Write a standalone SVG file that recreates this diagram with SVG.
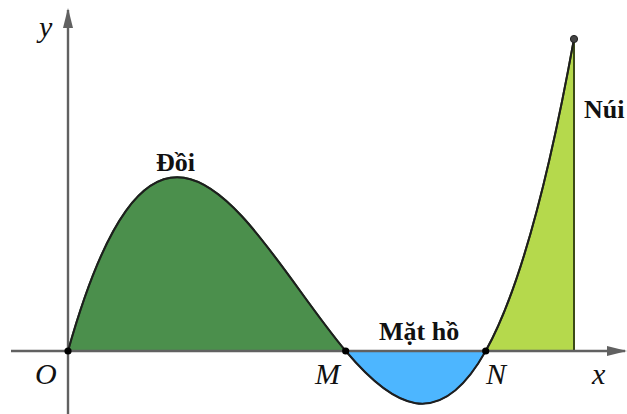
<svg xmlns="http://www.w3.org/2000/svg" width="627" height="414" viewBox="0 0 627 414">
<style>
.axis{stroke:#616161;stroke-width:2.4;fill:none}
.curve{stroke:#1e1e1e;stroke-width:2;fill:none}
.lbl{font-family:"Liberation Serif","Times New Roman",serif;font-weight:bold;font-size:26px;fill:#111}
.math{font-family:"Liberation Serif","Times New Roman",serif;font-style:italic;font-size:30px;fill:#111}
.pt{fill:#000}
</style>
<defs>
<marker id="arr" viewBox="0 0 20 10" refX="18" refY="5" markerWidth="20" markerHeight="10" markerUnits="userSpaceOnUse" orient="auto">
<path d="M0,0 L20,5 L0,10 Z" fill="#616161"/>
</marker>
</defs>
<rect width="627" height="414" fill="#fff"/>
<g id="regions">
<path id="hill" d="M68,351 C160.57,22.44 253.13,240.87 345.7,351 Z" fill="#4b8f4c" stroke="#2b5a2b" stroke-width="2"/>
<path id="lake" d="M345.7,351 C392.37,406.52 439.03,434.51 485.7,351 Z" fill="#4db6ff" stroke="#1e3a55" stroke-width="1.5"/>
<path id="mountain" d="M485.7,351 C515.13,298.33 544.57,201.34 574,38.9 L574,351 Z" fill="#b5d94c" stroke="#3b4a18" stroke-width="2"/>
</g>
<g id="axes">
<line class="axis" x1="11" y1="351" x2="625" y2="351" marker-end="url(#arr)"/>
<line class="axis" x1="68" y1="414" x2="68" y2="10" marker-end="url(#arr)"/>
</g>
<g id="graph">
<path class="curve" d="M68,351 C160.57,22.44 253.13,240.87 345.7,351 C392.37,406.52 439.03,434.51 485.7,351 C515.13,298.33 544.57,201.34 574,38.9"/>
</g>
<g id="points">
<circle class="pt" cx="68" cy="351" r="3.6"/>
<circle class="pt" cx="345.7" cy="351" r="3.6"/>
<circle class="pt" cx="485.7" cy="351" r="3.6"/>
<circle cx="574" cy="39" r="3.6" fill="#444" stroke="#222" stroke-width="1"/>
</g>
<g id="labels">
<text class="math" x="39" y="37">y</text>
<text class="math" x="35" y="384">O</text>
<text class="math" x="315" y="384">M</text>
<text class="math" x="486" y="384">N</text>
<text class="math" x="592" y="384">x</text>
<text class="lbl" x="156" y="171">Đồi</text>
<text class="lbl" x="379" y="340">Mặt hồ</text>
<text class="lbl" x="584" y="118">Núi</text>
</g>
</svg>
